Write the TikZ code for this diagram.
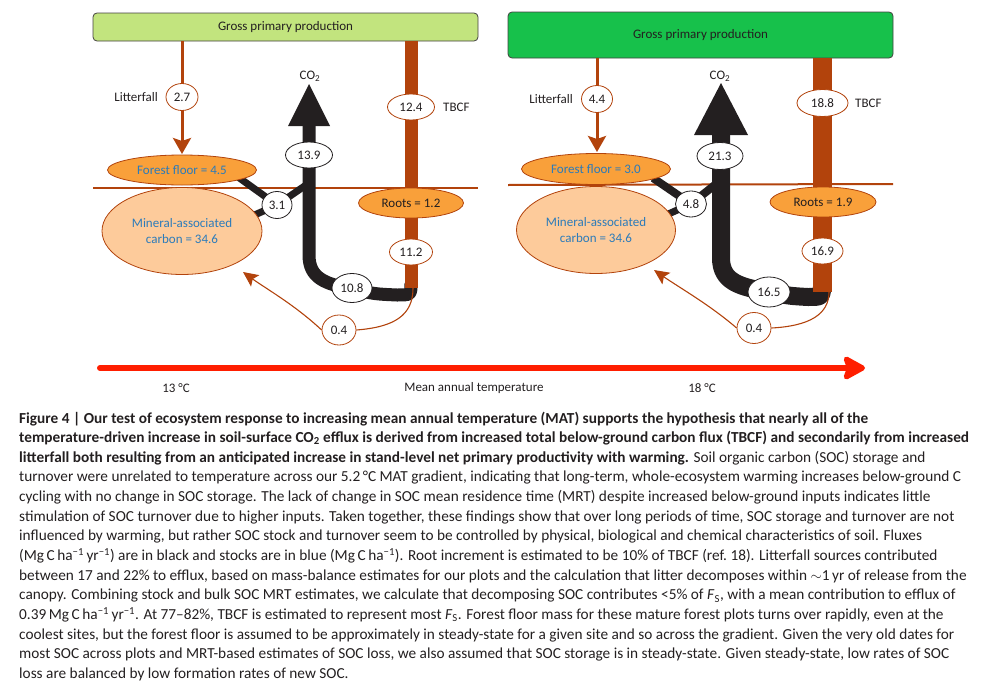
\documentclass[tikz,border=0pt]{standalone}
\usepackage{fontspec}
\setmainfont{Carlito}
\usetikzlibrary{arrows.meta,backgrounds,shapes.geometric}
\definecolor{brn}{HTML}{B2430C}
\definecolor{lgreen}{HTML}{C2E47E}
\definecolor{dgreen}{HTML}{17C14B}
\definecolor{orng}{HTML}{F9A03A}
\definecolor{lorng}{HTML}{FDCB9B}
\definecolor{stockblue}{HTML}{2B7BBA}
\definecolor{fluxblack}{HTML}{231F20}
\definecolor{tred}{HTML}{FF1E00}
\begin{document}
\begin{tikzpicture}[x=1pt,y=-1pt,
  lab/.style={font=\fontsize{13}{15}\selectfont, text=fluxblack, inner sep=0pt},
  gppbox/.style={draw=fluxblack!85, line width=0.8pt, rounded corners=4pt, inner sep=0pt, font=\fontsize{13}{15}\selectfont, text=fluxblack, minimum width=385pt},
  bflux/.style={ellipse, draw=fluxblack, line width=0.8pt, fill=white, inner sep=0pt, font=\fontsize{13}{15}\selectfont, text=fluxblack},
  rflux/.style={bflux, draw=brn},
  pool/.style={ellipse, draw=brn, line width=0.8pt, inner sep=0pt, font=\fontsize{13}{16}\selectfont, text=stockblue, align=center},
  bar/.style={draw=brn, line width=#1},
  blackflux/.style={draw=fluxblack, line width=#1, line join=round},
  litter/.style={draw=brn, line width=3pt, -{Stealth[length=16pt,width=18pt,inset=3pt]}},
  thinbrn/.style={draw=brn, line width=1.1pt},
  ground/.style={draw=brn, line width=2pt},
  captxt/.style={anchor=base west, inner sep=0pt, font=\fontsize{15.3}{17}\selectfont, text=fluxblack},
]
\useasboundingbox (0,0) rectangle (998,688);

% ================= LEFT PANEL =================
\node[gppbox, fill=lgreen, minimum height=28pt] (gppL) at (285.5,27) {Gross primary production};
\coordinate (LgL) at (93,188);
\coordinate (LgR) at (478,188);
\draw[ground] (LgL) -- (LgR);
\coordinate (LlitTop) at (182,41);
\coordinate (LlitEnd) at (182,154);
\coordinate (LbarTop) at (411,41);
\coordinate (LbarEnd) at (411,288);
\coordinate (LheadBase) at (309,126);
\coordinate (LheadTip) at (309,84);
\coordinate (Lshaft) at (309,183);
\coordinate (LffOut) at (238,177);
\coordinate (LminOut) at (250,217);
\coordinate (L31c) at (277,205);
\coordinate (LminTip) at (243,272);

% black fluxes
\draw[blackflux=7pt] (LffOut) -- (L31c) -- (Lshaft);
\draw[blackflux=7pt] (LminOut) -- (L31c);
\draw[blackflux=13pt] (LheadBase) -- (309,255) .. controls (309,278) and (325,284) .. (352,289) .. controls (375,294) .. (397,295) .. controls (411,295) .. (411,283);
\fill[fluxblack] (288,126) -- (LheadTip) -- (330,126) -- cycle;
% TBCF bar
\draw[bar=13pt] (LbarTop) -- (LbarEnd);
% litterfall
\draw[litter] (LlitTop) -- (LlitEnd);

\node[pool, fill=orng, minimum width=149pt, minimum height=30pt] (ffL) at (182,170) {Forest floor = 4.5};
\node[pool, fill=lorng, minimum width=160pt, minimum height=87pt] (minL) at (182,231) {Mineral-associated\\carbon = 34.6};
\node[pool, fill=orng, minimum width=105pt, minimum height=30pt, text=fluxblack] (rootL) at (411,203) {Roots = 1.2};

% thin brown to mineral
\node[rflux, minimum width=34pt, minimum height=30pt] (L04) at (339,330) {0.4};
\draw[thinbrn, -{Stealth[length=15pt,width=14pt,inset=3pt]}] (L04.west) .. controls (295,305) and (265,288) .. (LminTip);
\draw[thinbrn] (L04.east) .. controls (395,327) and (413,315) .. (413,288);

\node[rflux, minimum width=32pt, minimum height=27pt] (L27) at (182,97) {2.7};
\node[lab, anchor=east] (LlitLab) at (158,97) {Litterfall};
\node[rflux, minimum width=47pt, minimum height=26pt] (L124) at (411,107) {12.4};
\node[lab, anchor=west] (LtbcfLab) at (443,107) {TBCF};
\node[rflux, minimum width=43pt, minimum height=26pt] (L112) at (411,252) {11.2};
\node[bflux, minimum width=47pt, minimum height=26pt] (L139) at (309,155) {13.9};
\node[bflux, minimum width=30pt, minimum height=27pt] (L31) at (L31c) {3.1};
\node[bflux, minimum width=40pt, minimum height=29pt] (L108) at (352,288) {10.8};
\node[lab] (Lco2) at (310,76) {CO\textsubscript{2}};

% ================= RIGHT PANEL =================
\node[gppbox, fill=dgreen, minimum height=46pt] (gppR) at (700.5,35) {Gross primary production};
\coordinate (RgL) at (508,185);
\coordinate (RgR) at (893,184);
\draw[ground] (RgL) -- (RgR);
\coordinate (RlitTop) at (597,58);
\coordinate (RlitEnd) at (597,152);
\coordinate (RbarTop) at (822.5,58);
\coordinate (RbarEnd) at (822.5,292);
\coordinate (RheadBase) at (721,135);
\coordinate (RheadTip) at (721,83);
\coordinate (Rshaft) at (721,180);
\coordinate (RffOut) at (653,178);
\coordinate (RminOut) at (666,215);
\coordinate (R48c) at (691,204);
\coordinate (RminTip) at (654,270);

\draw[blackflux=8pt] (RffOut) -- (R48c) -- (Rshaft);
\draw[blackflux=7pt] (RminOut) -- (R48c);
\draw[blackflux=18pt] (RheadBase) -- (721,258) .. controls (721,282) and (740,287) .. (769,292) .. controls (790,296) .. (808,297) .. controls (822,297) .. (822,285);
\fill[fluxblack] (694,135) -- (RheadTip) -- (748,135) -- cycle;
\draw[bar=19pt] (RbarTop) -- (RbarEnd);
\draw[litter] (RlitTop) -- (RlitEnd);

\node[pool, fill=orng, minimum width=149pt, minimum height=31pt] (ffR) at (596,169) {Forest floor = 3.0};
\node[pool, fill=lorng, minimum width=159pt, minimum height=87pt] (minR) at (596,230) {Mineral-associated\\carbon = 34.6};
\node[pool, fill=orng, minimum width=106pt, minimum height=30pt, text=fluxblack] (rootR) at (823,202) {Roots = 1.9};

\node[rflux, minimum width=34pt, minimum height=31pt] (R04) at (754,328) {0.4};
\draw[thinbrn, -{Stealth[length=15pt,width=14pt,inset=3pt]}] (R04.west) .. controls (710,305) and (680,288) .. (RminTip);
\draw[thinbrn] (R04.east) .. controls (810,326) and (829,314) .. (829,292);

\node[rflux, minimum width=31pt, minimum height=27pt] (R44) at (597,99) {4.4};
\node[lab, anchor=east] (RlitLab) at (573,99) {Litterfall};
\node[rflux, minimum width=51pt, minimum height=27pt] (R188) at (822.5,103) {18.8};
\node[lab, anchor=west] (RtbcfLab) at (855,103) {TBCF};
\node[rflux, minimum width=41pt, minimum height=26pt] (R169) at (822.5,251) {16.9};
\node[bflux, minimum width=46pt, minimum height=27pt] (R213) at (720,156) {21.3};
\node[bflux, minimum width=31pt, minimum height=26pt] (R48) at (R48c) {4.8};
\node[bflux, minimum width=42pt, minimum height=30pt] (R165) at (769,292) {16.5};
\node[lab] (Rco2) at (720,76) {CO\textsubscript{2}};

% ================= TEMPERATURE AXIS =================
\coordinate (tStart) at (100,368);
\coordinate (tEnd) at (865,368);
\draw[tred, line width=6pt, line cap=round, -{Stealth[length=26pt,width=28pt,inset=5pt,round]}] (tStart) -- (tEnd);
\node[lab] (t13) at (176,388) {13 °C};
\node[lab] (tmat) at (474,388) {Mean annual temperature};
\node[lab] (t18) at (702,388) {18 °C};

% ================= CAPTION =================
\node[captxt] (c1) at (19,423) {\textbf{Figure 4 | Our test of ecosystem response to increasing mean annual temperature (MAT) supports the hypothesis that nearly all of the}};
\node[captxt] (c2) at (19,442.65) {\textbf{temperature-driven increase in soil-surface CO\textsubscript{2} efflux is derived from increased total below-ground carbon flux (TBCF) and secondarily from increased}};
\node[captxt] (c3) at (19,462.3) {\textbf{litterfall both resulting from an anticipated increase in stand-level net primary productivity with warming.} Soil organic carbon (SOC) storage and};
\node[captxt] (c4) at (19,481.95) {turnover were unrelated to temperature across our 5.2\,°C MAT gradient, indicating that long-term, whole-ecosystem warming increases below-ground C};
\node[captxt] (c5) at (19,501.6) {cycling with no change in SOC storage. The lack of change in SOC mean residence time (MRT) despite increased below-ground inputs indicates little};
\node[captxt] (c6) at (19,521.25) {stimulation of SOC turnover due to higher inputs. Taken together, these findings show that over long periods of time, SOC storage and turnover are not};
\node[captxt] (c7) at (19,540.9) {influenced by warming, but rather SOC stock and turnover seem to be controlled by physical, biological and chemical characteristics of soil. Fluxes};
\node[captxt] (c8) at (19,560.55) {(Mg\,C\,ha\textsuperscript{−1}\,yr\textsuperscript{−1}) are in black and stocks are in blue (Mg\,C\,ha\textsuperscript{−1}). Root increment is estimated to be 10\% of TBCF (ref.~18). Litterfall sources contributed};
\node[captxt] (c9) at (19,580.2) {between 17 and 22\% to efflux, based on mass-balance estimates for our plots and the calculation that litter decomposes within $\sim$1\,yr of release from the};
\node[captxt] (c10) at (19,599.85) {canopy. Combining stock and bulk SOC MRT estimates, we calculate that decomposing SOC contributes <5\% of \textit{F}\textsubscript{S}, with a mean contribution to efflux of};
\node[captxt] (c11) at (19,619.5) {0.39\,Mg\,C\,ha\textsuperscript{−1}\,yr\textsuperscript{−1}. At 77–82\%, TBCF is estimated to represent most \textit{F}\textsubscript{S}. Forest floor mass for these mature forest plots turns over rapidly, even at the};
\node[captxt] (c12) at (19,639.15) {coolest sites, but the forest floor is assumed to be approximately in steady-state for a given site and so across the gradient. Given the very old dates for};
\node[captxt] (c13) at (19,658.8) {most SOC across plots and MRT-based estimates of SOC loss, we also assumed that SOC storage is in steady-state. Given steady-state, low rates of SOC};
\node[captxt] (c14) at (19,678.45) {loss are balanced by low formation rates of new SOC.};
\end{tikzpicture}
\end{document}
